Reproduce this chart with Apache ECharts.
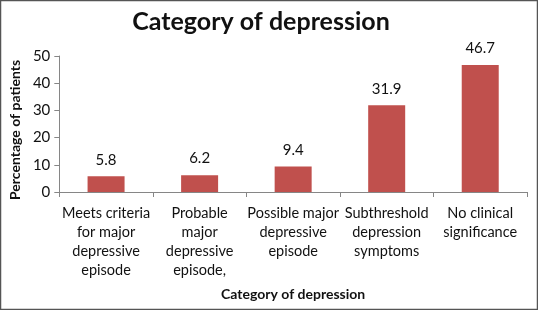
<!DOCTYPE html>
<html>
<head>
<meta charset="utf-8">
<script src="https://cdn.jsdelivr.net/npm/echarts@6/dist/echarts.min.js"></script>
<style>
  html, body { margin: 0; padding: 0; background: #fff; }
  #chart { width: 538px; height: 310px; }
</style>
</head>
<body>
<div id="chart"></div>
<script>
// chart data
var categories = [
  'Meets criteria\nfor major\ndepressive\nepisode',
  'Probable\nmajor\ndepressive\nepisode,',
  'Possible major\ndepressive\nepisode',
  'Subthreshold\ndepression\nsymptoms',
  'No clinical\nsignificance'
];
var percentages = [5.8, 6.2, 9.4, 31.9, 46.7];
var yTicks = [0, 10, 20, 30, 40, 50];

var myChart = echarts.init(document.getElementById('chart'));
var font = 'Lato';
var options = {
  animation: false,
  title: {
    text: 'Category of depression',
    left: 256,
    textAlign: 'center',
    top: 4,
    textStyle: { fontFamily: font, fontSize: 25, fontWeight: 'bold', color: '#111' }
  },
  graphic: [{
    type: 'rect',
    shape: { x: 0.5, y: 0.5, width: 537, height: 309 },
    style: { fill: 'none', stroke: '#555', lineWidth: 1.5 }
  }],
  grid: { left: 57, right: 11, top: 56, bottom: 118 },
  xAxis: {
    type: 'category',
    data: categories,
    name: 'Category of depression',
    nameLocation: 'middle',
    nameGap: 95,
    nameTextStyle: { fontFamily: font, fontSize: 14, fontWeight: 'bold', color: '#111' },
    axisLine: { lineStyle: { color: '#868686' } },
    axisTick: { show: true, length: 5, alignWithLabel: false, lineStyle: { color: '#868686' } },
    axisLabel: {
      interval: 0,
      margin: 12,
      fontFamily: font,
      fontSize: 14.5,
      lineHeight: 19,
      color: '#111',
      verticalAlign: 'top'
    }
  },
  yAxis: {
    type: 'value',
    min: yTicks[0],
    max: yTicks[yTicks.length - 1],
    interval: 10,
    name: 'Percentage of patients',
    nameLocation: 'middle',
    nameGap: 37,
    nameTextStyle: { fontFamily: font, fontSize: 14, fontWeight: 'bold', color: '#111', padding: [0, 12, 0, 0] },
    axisLine: { show: true, lineStyle: { color: '#868686' } },
    axisTick: { show: true, length: 5, lineStyle: { color: '#868686' } },
    splitLine: { show: false },
    axisLabel: { fontFamily: font, fontSize: 15, color: '#111', margin: 9 }
  },
  series: [{
    type: 'bar',
    data: percentages,
    barWidth: 37,
    itemStyle: { color: '#C0504D' },
    label: {
      show: true,
      position: 'top',
      distance: 9,
      fontFamily: font,
      fontSize: 15,
      color: '#111',
      formatter: function (p) { return p.value.toFixed(1); }
    }
  }]
};
myChart.setOption(options, true);
window.addEventListener('resize', function () {
  myChart.resize();
});
</script>
</body>
</html>
